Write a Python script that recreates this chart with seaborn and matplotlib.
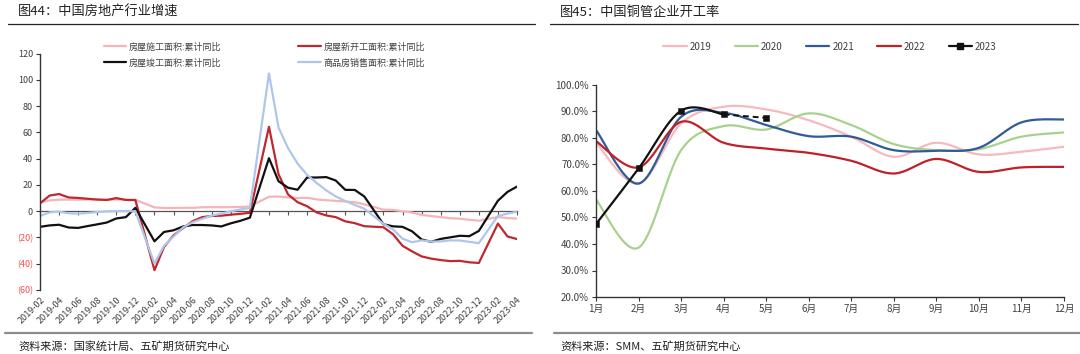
import numpy as np
import pandas as pd
import seaborn as sns
import matplotlib.pyplot as plt
from matplotlib.lines import Line2D

# ---- left chart: China real estate, cumulative YoY (%), Jan merged into Feb
months = [m for m in pd.date_range("2019-02", "2023-04", freq="MS") if m.month != 1]
month_labels = [m.strftime("%Y-%m") for m in months]

construction = [6.8, 8.2, 8.8, 8.8, 8.8, 9.0, 8.8, 8.7, 9.0, 8.7, 8.7,
                2.9, 2.5, 2.5, 2.6, 2.6, 3.0, 3.1, 3.1, 3.1, 3.2, 3.7,
                11.0, 11.2, 10.5, 10.1, 10.2, 9.0, 8.4, 7.9, 7.4, 6.9, 5.2,
                1.2, 1.0, 0.0, -1.0, -2.8, -3.7, -4.5, -5.3, -5.7, -6.5, -7.2,
                -4.4, -5.2, -5.6]
new_starts = [6.0, 11.9, 13.1, 10.5, 10.1, 9.5, 8.9, 8.6, 10.0, 8.6, 8.5,
              -44.9, -27.2, -18.4, -12.8, -7.6, -4.5, -3.6, -3.4, -2.6, -2.0, -1.2,
              64.3, 28.2, 12.8, 6.9, 3.8, -0.9, -3.2, -4.5, -7.7, -9.1, -11.4,
              -12.2, -17.5, -26.3, -30.6, -34.4, -36.1, -37.2, -38.0, -37.8, -38.9, -39.4,
              -9.4, -19.2, -21.2]
completed = [-11.9, -10.8, -10.3, -12.4, -12.7, -11.3, -10.0, -8.6, -5.5, -4.5, 2.6,
             -22.9, -15.8, -14.5, -11.6, -10.5, -10.5, -10.8, -11.6, -9.2, -7.3, -4.9,
             40.4, 22.9, 17.9, 16.4, 25.7, 25.7, 26.0, 23.4, 16.3, 16.2, 11.2,
             -9.9, -11.5, -11.9, -15.3, -21.5, -23.3, -21.1, -19.9, -18.7, -19.0, -15.0,
             8.0, 14.7, 18.8]
sales = [-3.6, -0.9, -0.3, -1.6, -1.8, -1.3, -0.6, -0.1, 0.1, 0.2, -0.1,
         -39.9, -26.3, -19.3, -12.3, -8.4, -5.8, -3.3, -1.8, 0.0, 1.3, 2.6,
         104.9, 63.8, 48.1, 36.3, 27.7, 21.5, 15.9, 11.3, 7.8, 4.8, 1.9,
         -9.6, -13.8, -20.9, -23.6, -22.2, -23.1, -23.0, -22.2, -22.3, -23.3, -24.3,
         -3.6, -1.8, -0.4]

# ---- right chart: copper tube operating rate (%)
month_names = [f"{i}月" for i in range(1, 13)]
rate_2019 = [78.2, 62.8, 85.5, 91.8, 90.8, 86.7, 80.5, 72.9, 78.2, 73.8, 74.8, 76.7]
rate_2020 = [56.8, 38.6, 75.4, 84.5, 83.2, 89.3, 84.9, 77.7, 75.4, 75.8, 80.5, 82.1]
rate_2021 = [83.0, 62.8, 88.0, 89.5, 84.9, 80.7, 80.5, 75.4, 75.2, 76.3, 85.9, 87.0]
rate_2022 = [78.8, 68.9, 86.1, 78.2, 76.0, 74.4, 71.4, 66.6, 72.1, 67.2, 68.9, 69.1]
rate_2023 = [47.5, 68.5, 90.3, 88.9, 87.6]

sns.set_theme(style="white")
plt.rcParams['font.family'] = ['Noto Sans CJK SC', 'DejaVu Sans']
plt.rcParams['axes.unicode_minus'] = False

fig = plt.figure(figsize=(10.8, 3.54), dpi=100)
W, H = 1080, 354


def px(x, y):
    return x / W, 1 - y / H


# ---------------- left ----------------
ax1 = fig.add_axes([40 / W, 64 / H, 477 / W, 236.3 / H])
mx = [(m.year - 2019) * 12 + m.month - 2 for m in months]
df1 = pd.DataFrame({"x": mx, "施工": construction, "新开工": new_starts,
                    "竣工": completed, "销售": sales})
left_series = [("施工", "房屋施工面积:累计同比", "#F5B5B8"),
               ("新开工", "房屋新开工面积:累计同比", "#C0282F"),
               ("竣工", "房屋竣工面积:累计同比", "#111111"),
               ("销售", "商品房销售面积:累计同比", "#AFC6EA")]
for col, name, c in left_series:
    sns.lineplot(data=df1, x="x", y=col, ax=ax1, color=c, lw=1.6, label=name)

ax1.set_xlim(0, 50)
ax1.set_ylim(-60, 120)
yt = list(range(-60, 121, 20))
ax1.set_yticks(yt, [f"({-v})" if v < 0 else str(v) for v in yt])
for lab, v in zip(ax1.get_yticklabels(), yt):
    lab.set_color("#FF4D4D" if v < 0 else "#404040")
xt = list(range(0, 51, 2))
xl = [f"{2019 + (t + 1) // 12}-{(t + 1) % 12 + 1:02d}" for t in xt]
ax1.set_xticks(xt, xl, rotation=45, ha="right", rotation_mode="anchor")
ax1.tick_params(axis="x", length=0, labelsize=6.5, colors="#404040", pad=4)
ax1.tick_params(axis="y", left=True, length=3, width=0.8, labelsize=6.5, pad=2,
                color="#333333")
for s in ["top", "right", "bottom"]:
    ax1.spines[s].set_visible(False)
ax1.spines["left"].set_color("#333333")
ax1.spines["left"].set_linewidth(1.0)
sec = ax1.secondary_xaxis(1 / 3)
sec.set_xticks(xt, labels=[])
sec.tick_params(length=3, width=0.8, color="#555555")
sec.spines["bottom"].set_color("#555555")
sec.spines["bottom"].set_linewidth(0.9)
ax1.set_xlabel("")
ax1.set_ylabel("")
h, l = ax1.get_legend_handles_labels()
order = [0, 2, 1, 3]  # legend fills column by column
ax1.legend([h[i] for i in order], [l[i] for i in order],
           loc="center", bbox_to_anchor=(0.47, 0.995), ncol=2, frameon=False,
           fontsize=6.5, handlelength=2.5, handletextpad=0.3, columnspacing=8.5,
           labelspacing=0.75, labelcolor="#404040")


# ---------------- right ----------------
def smooth(xs, ys, n=24):
    # Excel-style smoothed line (Bezier through points)
    p = np.column_stack([xs, ys]).astype(float)
    pts = np.vstack([p[0], p, p[-1]])
    out = []
    t = np.linspace(0, 1, n)[:, None]
    for i in range(1, len(pts) - 2):
        p0, p1, p2, p3 = pts[i - 1], pts[i], pts[i + 1], pts[i + 2]
        c1 = p1 + (p2 - p0) / 6
        c2 = p2 - (p3 - p1) / 6
        seg = ((1 - t) ** 3) * p1 + 3 * ((1 - t) ** 2) * t * c1 + 3 * (1 - t) * t ** 2 * c2 + t ** 3 * p2
        out.append(seg if i == 1 else seg[1:])
    arr = np.vstack(out)
    return pd.DataFrame({"x": arr[:, 0], "y": arr[:, 1]})


ax2 = fig.add_axes([596 / W, 57 / H, 468 / W, 212 / H])
right_series = [("2019", rate_2019, "#F7B9BE"), ("2020", rate_2020, "#A9D18E"),
                ("2021", rate_2021, "#2F5B97"), ("2022", rate_2022, "#C0202A")]
handles = []
for name, vals, c in right_series:
    sm = smooth(range(1, len(vals) + 1), vals)
    sns.lineplot(data=sm, x="x", y="y", ax=ax2, color=c, lw=1.6, sort=False)
    handles.append(Line2D([], [], color=c, lw=1.6, label=name))

x23 = list(range(1, len(rate_2023) + 1))
sm23 = smooth(x23[:4], rate_2023[:4])
sns.lineplot(data=sm23, x="x", y="y", ax=ax2, color="#111111", lw=1.6, sort=False)
sns.lineplot(x=x23[3:], y=rate_2023[3:], ax=ax2, color="#111111", lw=1.4,
             linestyle=(0, (3, 2)))
sns.scatterplot(x=x23, y=rate_2023, ax=ax2, color="#111111", marker="s", s=22,
                edgecolor="#111111", zorder=5)
handles.append(Line2D([], [], color="#111111", lw=1.6, marker="s", ms=4, label="2023"))

ax2.set_xlim(1, 12)
ax2.set_ylim(20, 100)
ax2.set_xticks(range(1, 13), month_names)
yt2 = list(range(20, 101, 10))
ax2.set_yticks(yt2, [f"{v:.1f}%" for v in yt2])
ax2.tick_params(axis="both", labelsize=7, colors="#404040", length=3, width=0.8,
                bottom=True, left=True, pad=2)
ax2.tick_params(axis="both", color="#333333")
for s in ["top", "right"]:
    ax2.spines[s].set_visible(False)
for s in ["left", "bottom"]:
    ax2.spines[s].set_color("#333333")
    ax2.spines[s].set_linewidth(1.0)
ax2.set_xlabel("")
ax2.set_ylabel("")
ax2.legend(handles=handles, loc="center", bbox_to_anchor=(0.5, 1.18), ncol=5,
           frameon=False, fontsize=7, handlelength=2.4, handletextpad=0.3,
           columnspacing=2.4, labelcolor="#404040")

# ---------------- titles, rules, sources ----------------
fig.text(*px(18, 12), "图44：中国房地产行业增速", fontsize=9.5, va="center", color="#222222")
fig.text(*px(560, 12), "图45：中国铜管企业开工率", fontsize=9.5, va="center", color="#222222")
for x0, x1 in [(8, 535), (550, 1078)]:
    fig.add_artist(Line2D([x0 / W, x1 / W], [1 - 23.5 / H] * 2, color="#222222", lw=0.9))
for x0, x1 in [(5, 532), (554, 1080)]:
    fig.add_artist(Line2D([x0 / W, x1 / W], [1 - 333 / H] * 2, color="#8C8C8C", lw=1.6))
fig.text(*px(18, 346), "资料来源：国家统计局、五矿期货研究中心", fontsize=8, va="center", color="#222222")
fig.text(*px(560, 346), "资料来源：SMM、五矿期货研究中心", fontsize=8, va="center", color="#222222")

fig.savefig("out.png", dpi=100)
